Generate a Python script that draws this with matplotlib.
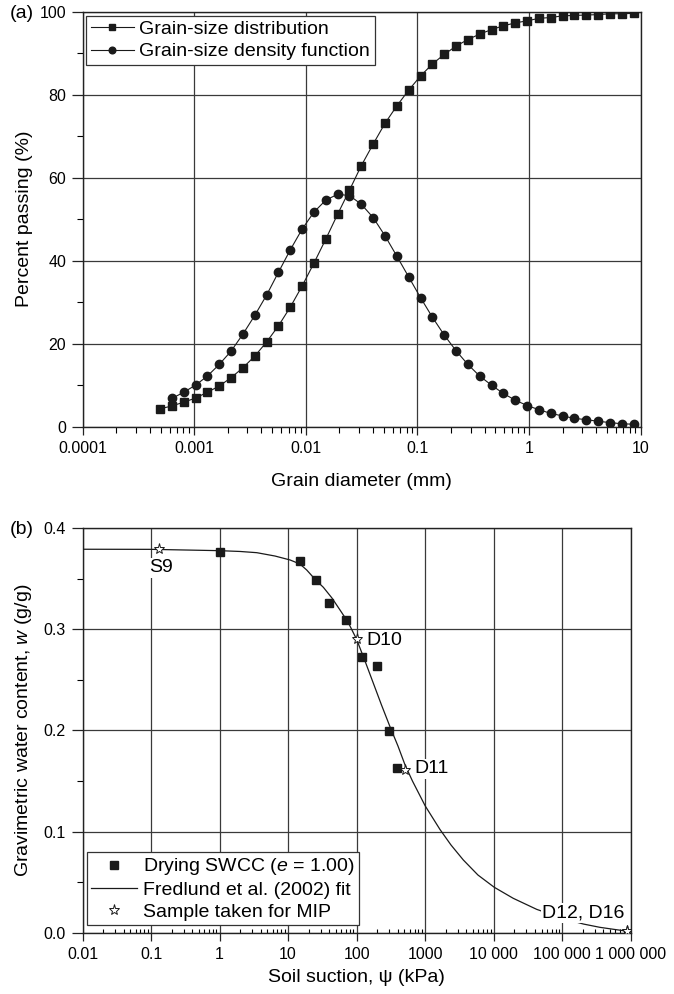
import matplotlib
matplotlib.use("Agg")
import matplotlib.pyplot as plt
from matplotlib.ticker import FixedLocator, FixedFormatter, LogLocator, MultipleLocator, NullFormatter, FormatStrFormatter

plt.rcParams['font.family'] = ['Liberation Sans', 'DejaVu Sans']
plt.rcParams['mathtext.fontset'] = 'custom'
plt.rcParams['mathtext.rm'] = 'Liberation Sans'
plt.rcParams['mathtext.it'] = 'Liberation Sans:italic'

# ---------------- data (a) ----------------
grain_d = [0.000493, 0.000630, 0.000804, 0.001026, 0.001311, 0.001674, 0.002137,
           0.002729, 0.003484, 0.004448, 0.005681, 0.007253, 0.009262, 0.01182,
           0.01510, 0.01928, 0.02462, 0.03143, 0.04013, 0.05125, 0.06543, 0.08354,
           0.1067, 0.1362, 0.1739, 0.2221, 0.2835, 0.3620, 0.4622, 0.5902, 0.7536,
           0.9623, 1.229, 1.569, 2.003, 2.558, 3.266, 4.171, 5.325, 6.799, 8.683]
passing = [4.3, 5.0, 5.9, 6.9, 8.3, 9.8, 11.8, 14.2, 17.0, 20.4, 24.3, 28.8, 33.9,
           39.4, 45.2, 51.2, 57.0, 62.9, 68.1, 73.1, 77.3, 81.1, 84.5, 87.4, 89.7,
           91.7, 93.3, 94.6, 95.7, 96.6, 97.3, 97.8, 98.4, 98.6, 99.0, 99.1, 99.2,
           99.3, 99.5, 99.5, 99.6]
density = [6.8, 8.3, 10.0, 12.2, 15.0, 18.2, 22.3, 26.8, 31.7, 37.2, 42.6, 47.6,
           51.7, 54.6, 56.0, 55.7, 53.6, 50.4, 46.0, 41.1, 36.1, 31.1, 26.4, 22.1,
           18.3, 15.0, 12.2, 10.0, 8.0, 6.4, 5.1, 4.1, 3.2, 2.6, 2.0, 1.7, 1.3, 1.0,
           0.7, 0.6]
density_d = grain_d[1:]

a_xticks = [0.0001, 0.001, 0.01, 0.1, 1, 10]
a_xticklabels = ['0.0001', '0.001', '0.01', '0.1', '1', '10']
a_yticks = [0, 20, 40, 60, 80, 100]

# ---------------- data (b) ----------------
swcc_psi = [1.0, 15.0, 25.3, 39.9, 69.3, 118.6, 200.0, 295.0, 385.0]
swcc_w = [0.376, 0.3677, 0.3486, 0.3259, 0.3091, 0.2725, 0.2639, 0.1997, 0.1625]

fit_psi = [0.01, 0.1, 1.0, 2.0, 3.5, 6.44, 10.7, 14.9, 18.7, 25.3, 32.7, 43.7, 57.2,
           74.8, 100, 132.5, 175, 230.7, 307, 401.6, 508, 653.6, 1005, 1648, 2384,
           3606, 5902, 10200, 19300, 42400, 92900, 203000, 355600, 557000, 1000000]
fit_w = [0.3790, 0.3789, 0.3776, 0.3768, 0.3756, 0.3723, 0.3684, 0.3644, 0.3585,
         0.3486, 0.3414, 0.3308, 0.3190, 0.3071, 0.2900, 0.2686, 0.2468, 0.2251,
         0.2036, 0.1845, 0.1660, 0.1499, 0.1252, 0.1020, 0.0867, 0.0719, 0.0570,
         0.0449, 0.0340, 0.0231, 0.0150, 0.0086, 0.0053, 0.0034, 0.0010]

mip_psi = [0.13, 100, 508, 870000, 870000]
mip_w = [0.379, 0.290, 0.161, 0.0016, 0.0016]
mip_labels = ['S9', 'D10', 'D11', 'D12, D16']
label_pos = [(0.142, 0.3605, 'center'), (140, 0.2893, 'left'),
             (687, 0.1618, 'left'), (50700, 0.0198, 'left')]

b_xticks = [0.01, 0.1, 1, 10, 100, 1000, 1e4, 1e5, 1e6]
b_xticklabels = ['0.01', '0.1', '1', '10', '100', '1000', '10 000', '100 000', '1 000 000']
b_yticks = [0.0, 0.1, 0.2, 0.3, 0.4]

# ---------------- figure ----------------
W, H = 674, 994
fig = plt.figure(figsize=(W / 100, H / 100), dpi=100)

def px_axes(l, t, r, b):
    return fig.add_axes([l / W, 1 - b / H, (r - l) / W, (b - t) / H])

ink = '#1a1a1a'
gridc = '#3a3a3a'
TICK_FS = 11.5
LAB_FS = 14

# (a)
ax1 = px_axes(82.7, 11.7, 640.5, 426.7)
ax1.set_xscale('log')
ax1.set_xlim(0.0001, 10)
ax1.set_ylim(0, 100)
ax1.plot(grain_d, passing, '-', color=ink, lw=0.8, marker='s', ms=5.8, mfc=ink,
         mec=ink, label='Grain-size distribution', zorder=3)
ax1.plot(density_d, density, '-', color=ink, lw=0.8, marker='o', ms=6.0, mfc=ink,
         mec=ink, label='Grain-size density function', zorder=3)
ax1.xaxis.set_major_locator(FixedLocator(a_xticks))
ax1.xaxis.set_major_formatter(FixedFormatter(a_xticklabels))
ax1.xaxis.set_minor_locator(LogLocator(base=10, subs=range(2, 10), numticks=20))
ax1.xaxis.set_minor_formatter(NullFormatter())
ax1.yaxis.set_major_locator(FixedLocator(a_yticks))
ax1.yaxis.set_minor_locator(MultipleLocator(10))
ax1.grid(True, which='major', color=gridc, lw=0.9)
ax1.set_axisbelow(True)
ax1.tick_params(axis='both', which='major', direction='out', labelsize=TICK_FS,
                width=0.9, color='#222222')
ax1.tick_params(axis='x', which='major', length=6, pad=4)
ax1.tick_params(axis='x', which='minor', direction='out', length=4, width=0.8)
ax1.tick_params(axis='y', which='major', length=8, pad=4)
ax1.tick_params(axis='y', which='minor', direction='out', length=4, width=0.8)
ax1.set_xlabel('Grain diameter (mm)', fontsize=LAB_FS)
ax1.set_ylabel('Percent passing (%)', fontsize=LAB_FS)
for s in ax1.spines.values():
    s.set_linewidth(1.0)
    s.set_color('#222222')
leg1 = ax1.legend(loc='upper left', bbox_to_anchor=(86 / W, 1 - 15.7 / H),
                  bbox_transform=fig.transFigure, borderaxespad=0, fontsize=LAB_FS,
                  numpoints=1, handlelength=2.2, handletextpad=0.3, borderpad=0.25,
                  labelspacing=0.24, fancybox=False, framealpha=1, edgecolor='#333333',
                  markerscale=0.8)
leg1.get_frame().set_linewidth(0.9)

# (b)
ax2 = px_axes(82.5, 528, 630.7, 932.7)
ax2.set_xscale('log')
ax2.set_xlim(0.01, 1e6)
ax2.set_ylim(0, 0.4)
ax2.plot(swcc_psi, swcc_w, 's', ms=5.2, color=ink, mec=ink, lw=0,
         label='Drying SWCC ($e$ = 1.00)', zorder=4)
ax2.plot(fit_psi, fit_w, '-', color=ink, lw=0.9, label='Fredlund et al. (2002) fit', zorder=3)
ax2.plot(mip_psi, mip_w, '*', ms=8, mfc='white', mec=ink, mew=0.7, lw=0,
         label='Sample taken for MIP', zorder=6)
for (lx, ly, ha), txt in zip(label_pos, mip_labels):
    ax2.text(lx, ly, txt, fontsize=LAB_FS, ha=ha, va='center', zorder=5,
             bbox=dict(facecolor='white', edgecolor='none', pad=1.0))
ax2.xaxis.set_major_locator(FixedLocator(b_xticks))
ax2.xaxis.set_major_formatter(FixedFormatter(b_xticklabels))
ax2.xaxis.set_minor_locator(LogLocator(base=10, subs=range(2, 10), numticks=30))
ax2.xaxis.set_minor_formatter(NullFormatter())
ax2.yaxis.set_major_locator(FixedLocator(b_yticks))
ax2.yaxis.set_major_formatter(FormatStrFormatter('%.1f'))
ax2.yaxis.set_minor_locator(MultipleLocator(0.05))
ax2.grid(True, which='major', color=gridc, lw=0.9)
ax2.set_axisbelow(True)
ax2.tick_params(axis='both', which='major', direction='out', labelsize=TICK_FS,
                width=0.9, color='#222222')
ax2.tick_params(axis='x', which='major', length=6, pad=4)
ax2.tick_params(axis='x', which='minor', direction='in', length=3, width=0.8)
ax2.tick_params(axis='y', which='major', length=8, pad=4)
ax2.tick_params(axis='y', which='minor', direction='out', length=4, width=0.8)
ax2.set_xlabel('Soil suction, ψ (kPa)', fontsize=LAB_FS)
ax2.set_ylabel('Gravimetric water content, $w$ (g/g)', fontsize=LAB_FS)
for s in ax2.spines.values():
    s.set_linewidth(1.0)
    s.set_color('#222222')
leg2 = ax2.legend(loc='lower left', bbox_to_anchor=(86.7 / W, 1 - 925 / H),
                  bbox_transform=fig.transFigure, borderaxespad=0, fontsize=LAB_FS,
                  numpoints=1, handlelength=2.4, handletextpad=0.3, borderpad=0.2,
                  labelspacing=0.22, fancybox=False, framealpha=1, edgecolor='#333333')
leg2.get_frame().set_linewidth(0.9)
leg2.set_zorder(10)

# label positions
for ax, top, bot, yc in [(ax1, 11.7, 426.7, 482), (ax2, 528, 932.7, 978)]:
    h = bot - top
    ax.xaxis.set_label_coords(0.5, -(yc - bot) / h)
    ax.xaxis.label.set_va('center')
    pos = ax.get_position()
    ax.yaxis.set_label_coords(-(pos.x0 * W - 24) / (pos.width * W), 0.5)
    ax.yaxis.label.set_va('center')

fig.text(21.5 / W, 1 - 14 / H, '(a)', fontsize=LAB_FS, ha='center', va='center')
fig.text(21.5 / W, 1 - 530 / H, '(b)', fontsize=LAB_FS, ha='center', va='center')

fig.savefig('out.png', dpi=100)
